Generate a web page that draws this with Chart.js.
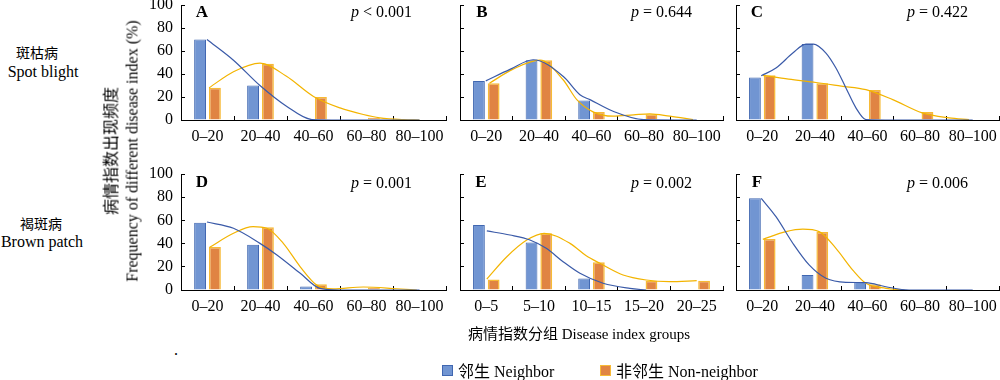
<!DOCTYPE html>
<html>
<head>
<meta charset="utf-8">
<script src="https://cdn.jsdelivr.net/npm/chart.js@4.4.1/dist/chart.umd.min.js"></script>
<style>
  html, body { margin: 0; padding: 0; background: #fff; overflow: hidden; }
  #wrap { position: relative; width: 1000px; height: 380px; overflow: hidden; }
  canvas { position: absolute; }
  .t { position: absolute; font-family: 'Liberation Serif', serif; font-size: 16px; color: #000; white-space: nowrap; line-height: 1; }
  .zh { font-family: 'Noto Sans CJK SC', sans-serif; }
  .c { transform: translate(-50%, -50%); }
  .r { transform: translate(-100%, -50%); }
  .l { transform: translate(0, -50%); }
  .sq { position: absolute; width: 11px; height: 11px; box-sizing: border-box; }
</style>
</head>
<body>
<div id="wrap">
  <canvas id="pA"></canvas><canvas id="cA"></canvas>
  <canvas id="pB"></canvas><canvas id="cB"></canvas>
  <canvas id="pC"></canvas><canvas id="cC"></canvas>
  <canvas id="pD"></canvas><canvas id="cD"></canvas>
  <canvas id="pE"></canvas><canvas id="cE"></canvas>
  <canvas id="pF"></canvas><canvas id="cF"></canvas>

  <div class="t zh c" style="left:37px; top:52px; font-size:14px;">斑枯病</div>
  <div class="t c" style="left:43px; top:72px;">Spot blight</div>
  <div class="t zh c" style="left:41px; top:223px; font-size:14px;">褐斑病</div>
  <div class="t c" style="left:42px; top:242px;">Brown patch</div>

  <div class="t c" style="left:121px; top:151px; transform: translate(-50%, -50%) rotate(-90deg); text-align:center; line-height:21px;">
    <span class="zh">病情指数出现频度</span><br>Frequency of different disease index (%)
  </div>

  <div class="t c" style="left:202px; top:11px; font-weight:bold; font-size:17px;">A</div>
  <div class="t c" style="left:482px; top:11px; font-weight:bold; font-size:17px;">B</div>
  <div class="t c" style="left:757px; top:11px; font-weight:bold; font-size:17px;">C</div>
  <div class="t c" style="left:202px; top:181px; font-weight:bold; font-size:17px;">D</div>
  <div class="t c" style="left:481px; top:181px; font-weight:bold; font-size:17px;">E</div>
  <div class="t c" style="left:757px; top:181px; font-weight:bold; font-size:17px;">F</div>

  <div class="t r" style="left:412px; top:12px;"><i>p</i> &lt; 0.001</div>
  <div class="t r" style="left:692px; top:12px;"><i>p</i> = 0.644</div>
  <div class="t r" style="left:968px; top:12px;"><i>p</i> = 0.422</div>
  <div class="t r" style="left:412px; top:183px;"><i>p</i> = 0.001</div>
  <div class="t r" style="left:692px; top:183px;"><i>p</i> = 0.002</div>
  <div class="t r" style="left:968px; top:183px;"><i>p</i> = 0.006</div>

  <div class="t c" style="left:579px; top:333px; font-size:15px;"><span class="zh">病情指数分组</span> Disease index groups</div>
  <div class="t c" style="left:176px; top:350px;">.</div>

  <div class="sq" style="left:442px; top:365px; background:#7195d2; border:1px solid #4067b1;"></div>
  <div class="t l" style="left:458px; top:371px;"><span class="zh">邻生</span> Neighbor</div>
  <div class="sq" style="left:600px; top:365px; background:#e08443; border:1px solid #f7ba36;"></div>
  <div class="t l" style="left:616px; top:371px;"><span class="zh">非邻生</span> Non-neighbor</div>
</div>

<script>
// category labels
const groups20 = ['0–20', '20–40', '40–60', '60–80', '80–100'];
const groups5 = ['0–5', '5–10', '10–15', '15–20', '20–25'];

// bar values (%), neighbor / non-neighbor
const neighborA = [70, 30, 0, 0, 0];
const nonNeighborA = [28, 49, 20, 2, 0];
const neighborB = [34, 52, 17, 0, 0];
const nonNeighborB = [32, 52, 7, 5, 0];
const neighborC = [37, 66, 0, 0, 0];
const nonNeighborC = [39, 32, 26, 7, 0];
const neighborD = [58, 39, 3, 0, 0];
const nonNeighborD = [37, 54, 5, 2, 0];
const neighborE = [56, 41, 10, 0, 0];
const nonNeighborE = [9, 49, 24, 8, 8];
const neighborF = [79, 13, 7, 0, 0];
const nonNeighborF = [44, 50, 5, 0, 0];

// fitted curves: [position in groups (0-5), %]
const fitNeighborA = [[0.49, 70], [0.99, 52], [1.49, 30], [1.99, 12], [2.47, 0.4], [3.0, 0], [4.5, 0]];
const fitNonNeighborA = [[0.53, 28], [0.99, 42], [1.49, 49.5], [1.99, 38], [2.5, 20.5], [3.0, 10.5], [3.44, 4.8], [3.75, 1.9], [4.2, 0.3], [4.5, 0]];
const fitNeighborB = [[0.49, 34], [0.95, 44], [1.39, 52.4], [1.96, 38], [2.28, 22], [2.47, 17.7], [2.91, 7.6], [3.49, 0.4], [4.5, 0]];
const fitNonNeighborB = [[0.56, 32], [1.0, 44], [1.52, 52], [1.96, 35], [2.22, 17.7], [2.53, 7.1], [2.91, 3.3], [3.3, 4.5], [3.61, 5.4], [3.99, 3.3], [4.43, 0.4]];
const fitNeighborC = [[0.48, 38.5], [0.76, 45.2], [1.08, 58.2], [1.33, 66], [1.47, 66], [1.71, 58.2], [1.9, 45.2], [2.09, 27.9], [2.28, 10.6], [2.47, 0.4], [3.0, 0], [4.5, 0]];
const fitNonNeighborC = [[0.51, 38.8], [1.0, 35.5], [1.52, 32.6], [2.0, 29.5], [2.47, 26.4], [2.98, 17.7], [3.54, 6.2], [4.05, 1.9], [4.43, 0.4]];
const fitNeighborD = [[0.49, 58.6], [0.99, 53.2], [1.49, 40.2], [1.81, 30.2], [2.25, 14.4], [2.62, 1.4], [3.0, 0], [4.5, 0]];
const fitNonNeighborD = [[0.54, 36.8], [0.99, 48.9], [1.36, 54.6], [1.62, 53.2], [1.93, 40.2], [2.25, 20], [2.56, 4.3], [2.87, 0.9], [3.44, 2.6], [4.07, 1.1], [4.45, 0]];
const fitNeighborE = [[0.51, 50.9], [0.95, 47.4], [1.33, 43.1], [1.64, 35.9], [1.96, 24.4], [2.28, 14.4], [2.72, 5.8], [3.23, 1.4], [3.54, 0]];
const fitNonNeighborE = [[0.51, 9.5], [0.89, 28.7], [1.27, 43.1], [1.6, 48.9], [2.09, 40.2], [2.4, 29.5], [2.66, 23], [3.1, 12.9], [3.54, 8.6], [3.98, 7.2], [4.5, 8]];
const fitNeighborF = [[0.48, 79], [0.76, 63.2], [1.08, 40.3], [1.39, 21.6], [1.71, 10.1], [2.09, 6.6], [2.47, 6.3], [2.85, 2.8], [3.29, 0], [4.5, 0]];
const fitNonNeighborF = [[0.51, 43.7], [0.95, 50.3], [1.27, 52.4], [1.58, 50.3], [1.9, 35.9], [2.22, 17.2], [2.47, 5.8], [2.85, 1.4], [3.2, 0]];

Chart.defaults.font.family = "'Liberation Serif', serif";
Chart.defaults.font.size = 16;
Chart.defaults.color = '#000';

const LEFT = 40, TOP = 10, RIGHT = 6, BOTTOM = 30;

function placeCanvas(id, box) {
  let canvas = document.getElementById(id);
  canvas.width = box.w + LEFT + RIGHT;
  canvas.height = box.h + TOP + BOTTOM;
  canvas.style.left = (box.x - LEFT) + 'px';
  canvas.style.top = (box.y - TOP) + 'px';
  return canvas.getContext('2d');
}

// keep the plot area fixed: no extra room for overhanging tick labels
function noPad(s) {
  s.paddingTop = 0;
  s.paddingBottom = 0;
  s.paddingLeft = 0;
  s.paddingRight = 0;
}

function drawPanel(id, box, labels, neighbor, nonNeighbor, showY) {
  let ctx = placeCanvas(id, box);
  return new Chart(ctx, {
    type: 'bar',
    data: {
      labels: labels,
      datasets: [
        {
          label: '邻生 Neighbor',
          data: neighbor,
          backgroundColor: '#7195d2',
          borderColor: '#4067b1',
          borderWidth: 1
        },
        {
          label: '非邻生 Non-neighbor',
          data: nonNeighbor,
          backgroundColor: '#e08443',
          borderColor: '#f7ba36',
          borderWidth: 1.5
        }
      ]
    },
    options: {
      responsive: false,
      animation: false,
      categoryPercentage: 0.56,
      barPercentage: 0.8,
      layout: { padding: { top: TOP, right: RIGHT, left: 0, bottom: 0 } },
      plugins: { legend: { display: false }, tooltip: { enabled: false } },
      scales: {
        x: {
          grid: { drawOnChartArea: false, drawTicks: true, tickLength: -4, color: '#000', offset: true },
          border: { color: '#000', width: 1 },
          ticks: { padding: 11, maxRotation: 0, autoSkip: false },
          afterFit: s => { s.height = BOTTOM; noPad(s); }
        },
        y: {
          min: 0,
          max: 100,
          grid: { drawOnChartArea: false, drawTicks: true, tickLength: -4, color: '#000' },
          border: { color: '#000', width: 1 },
          ticks: { stepSize: 20, autoSkip: false, padding: 12, callback: v => showY ? v : '' },
          afterFit: s => { s.width = LEFT; noPad(s); }
        }
      }
    }
  });
}

// smooth fitted curves on a transparent canvas over the bars, same plot area
function drawCurves(id, box, fitN, fitNN) {
  let ctx = placeCanvas(id, box);
  return new Chart(ctx, {
    type: 'line',
    data: {
      datasets: [
        {
          data: fitN.map(p => ({x: p[0], y: p[1]})),
          borderColor: '#3a5aa8',
          borderWidth: 1.2,
          pointRadius: 0,
          cubicInterpolationMode: 'monotone'
        },
        {
          data: fitNN.map(p => ({x: p[0], y: p[1]})),
          borderColor: '#f3b400',
          borderWidth: 1.2,
          pointRadius: 0,
          cubicInterpolationMode: 'monotone'
        }
      ]
    },
    options: {
      responsive: false,
      animation: false,
      layout: { padding: { top: TOP, right: RIGHT, left: LEFT, bottom: BOTTOM } },
      plugins: { legend: { display: false }, tooltip: { enabled: false } },
      scales: {
        x: { type: 'linear', display: false, min: 0, max: 5, offset: false },
        y: { display: false, min: 0, max: 100 }
      }
    }
  });
}

const boxA = {x: 181, y: 5, w: 265, h: 115};
const boxB = {x: 460, y: 5, w: 263, h: 115};
const boxC = {x: 736, y: 5, w: 263, h: 115};
const boxD = {x: 181, y: 174, w: 265, h: 116};
const boxE = {x: 460, y: 174, w: 263, h: 116};
const boxF = {x: 736, y: 174, w: 263, h: 116};

drawPanel('pA', boxA, groups20, neighborA, nonNeighborA, true);
drawPanel('pB', boxB, groups20, neighborB, nonNeighborB, false);
drawPanel('pC', boxC, groups20, neighborC, nonNeighborC, false);
drawPanel('pD', boxD, groups20, neighborD, nonNeighborD, true);
drawPanel('pE', boxE, groups5, neighborE, nonNeighborE, false);
drawPanel('pF', boxF, groups20, neighborF, nonNeighborF, false);

drawCurves('cA', boxA, fitNeighborA, fitNonNeighborA);
drawCurves('cB', boxB, fitNeighborB, fitNonNeighborB);
drawCurves('cC', boxC, fitNeighborC, fitNonNeighborC);
drawCurves('cD', boxD, fitNeighborD, fitNonNeighborD);
drawCurves('cE', boxE, fitNeighborE, fitNonNeighborE);
drawCurves('cF', boxF, fitNeighborF, fitNonNeighborF);
</script>
</body>
</html>
